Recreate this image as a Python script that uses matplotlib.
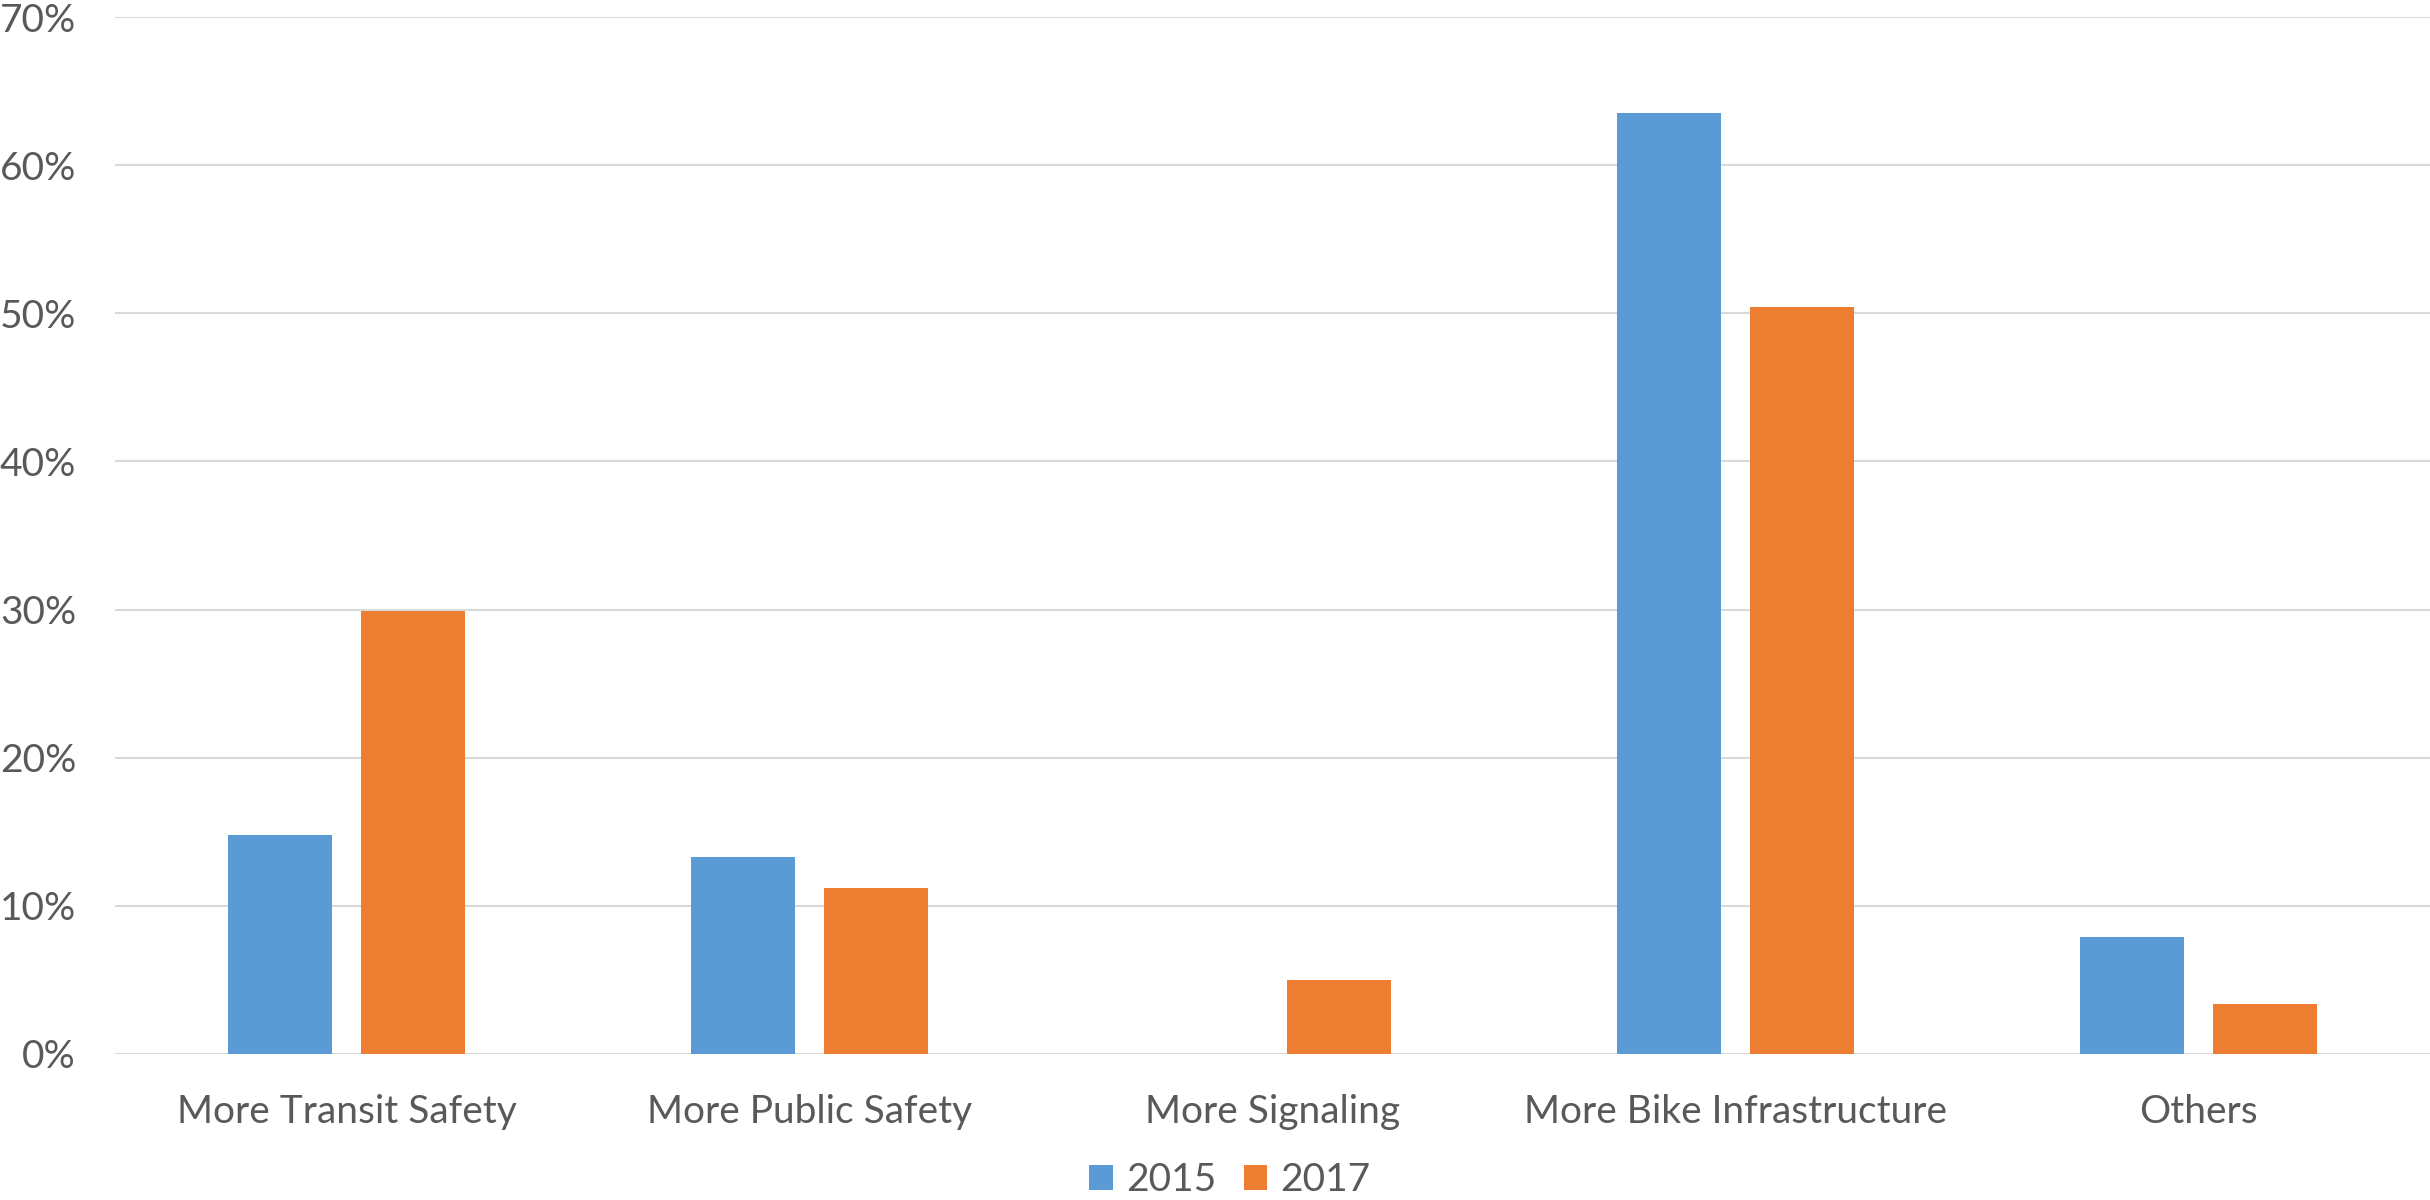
import matplotlib
matplotlib.use("Agg")
import matplotlib.pyplot as plt
import numpy as np
from matplotlib.ticker import PercentFormatter

categories = ["More Transit Safety", "More Public Safety", "More Signaling",
              "More Bike Infrastructure", "Others"]
series_names = ["2015", "2017"]
values_2015 = [14.8, 13.3, 0.0, 63.5, 7.9]
values_2017 = [29.9, 11.2, 5.0, 50.4, 3.4]
y_ticks = [0, 10, 20, 30, 40, 50, 60, 70]

blue = "#5B9BD5"
orange = "#ED7D31"
text_color = "#595959"
grid_color = "#D9D9D9"

plt.rcParams['font.family'] = ['Lato', 'DejaVu Sans']

fig = plt.figure(figsize=(24.3, 12), dpi=100)
ax = fig.add_axes([115/2430, 1 - 1054/1200, 1 - 115/2430, (1054 - 17)/1200])

x = np.arange(len(categories))
w = 0.2246
off = 0.1426
ax.bar(x - off, values_2015, w, color=blue, label=series_names[0], zorder=3)
ax.bar(x + off, values_2017, w, color=orange, label=series_names[1], zorder=3)

ax.set_xlim(-0.5, len(categories) - 0.5)
ax.set_ylim(0, 70)
ax.set_yticks(y_ticks)
ax.yaxis.set_major_formatter(PercentFormatter(decimals=0))
ax.set_xticks(x)
ax.set_xticklabels(categories)

for s in ax.spines.values():
    s.set_visible(False)
ax.grid(axis='y', color=grid_color, linewidth=1.5, zorder=0)
ax.set_axisbelow(True)
ax.tick_params(axis='both', length=0, labelsize=28, labelcolor=text_color)
ax.tick_params(axis='y', pad=28)
ax.tick_params(axis='x', pad=29)

leg = fig.legend(loc='center', bbox_to_anchor=(1230/2430, 1 - 1180/1200),
                 ncol=2, frameon=False, fontsize=28, handlelength=0.6,
                 handleheight=0.6, handletextpad=0.35, columnspacing=0.7,
                 borderpad=0.1)
for t in leg.get_texts():
    t.set_color(text_color)

fig.savefig("out.png", dpi=100)
